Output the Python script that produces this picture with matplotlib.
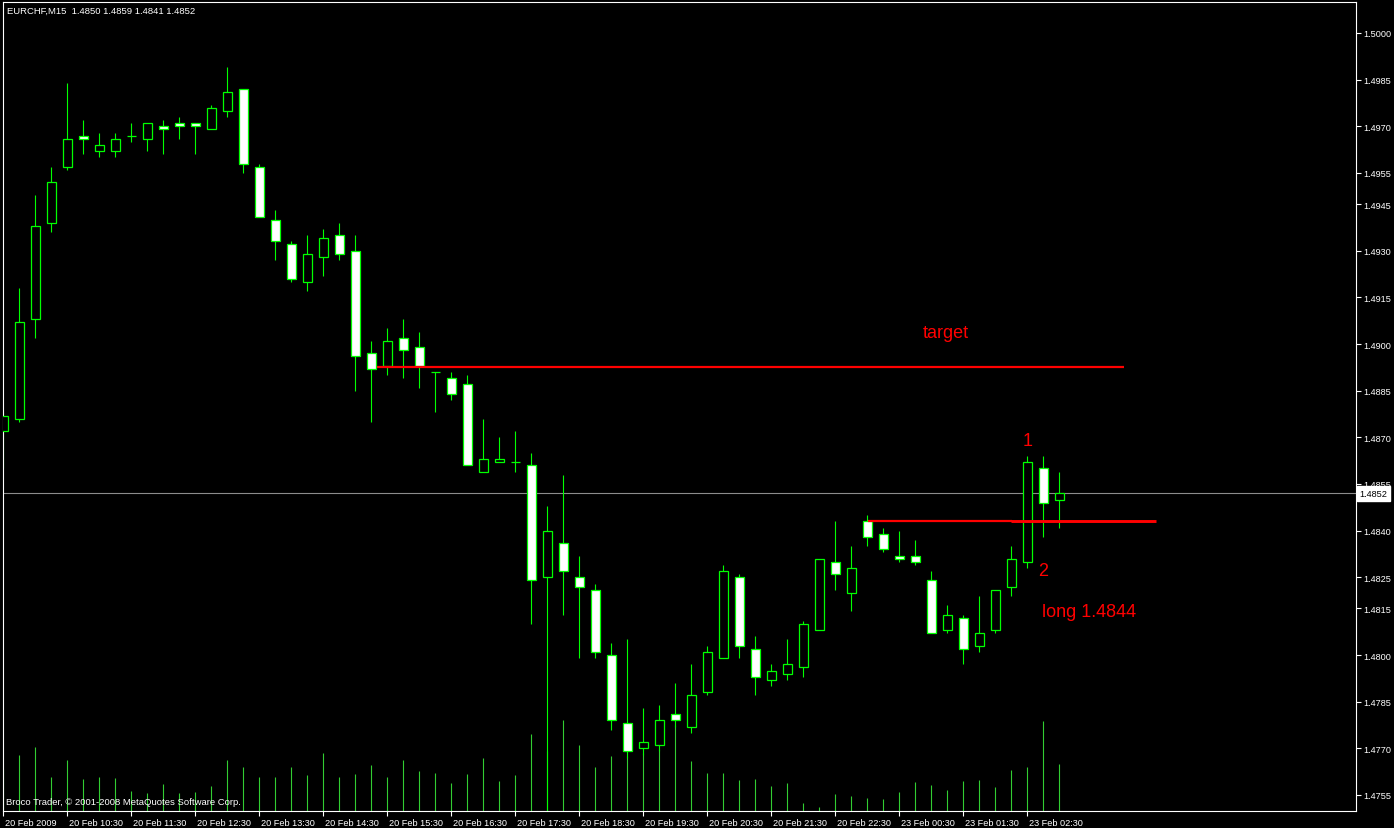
import matplotlib
matplotlib.use('Agg')
import matplotlib.pyplot as plt
import matplotlib.transforms as mtransforms
from matplotlib.patches import Rectangle

plt.rcParams['font.family'] = ['Liberation Sans', 'DejaVu Sans']

# ---------------- data ----------------
symbol = "EURCHF,M15"
opens = [1.4872, 1.4876, 1.4908, 1.4939, 1.4957, 1.4967, 1.4962, 1.4962, 1.4967, 1.4966,
         1.4970, 1.4971, 1.4971, 1.4969, 1.4975, 1.4982, 1.4957, 1.4940, 1.4932, 1.4920,
         1.4928, 1.4935, 1.4930, 1.4897, 1.4893, 1.4902, 1.4899, 1.4891, 1.4889, 1.4887,
         1.4859, 1.4862, 1.4862, 1.4861, 1.4825, 1.4836, 1.4825, 1.4821, 1.4800, 1.4778,
         1.4770, 1.4771, 1.4781, 1.4777, 1.4788, 1.4799, 1.4825, 1.4802, 1.4792, 1.4794,
         1.4796, 1.4808, 1.4830, 1.4820, 1.4843, 1.4839, 1.4832, 1.4832, 1.4824, 1.4808,
         1.4812, 1.4803, 1.4808, 1.4822, 1.4830, 1.4860, 1.4850]
highs = [1.4878, 1.4918, 1.4948, 1.4957, 1.4984, 1.4972, 1.4968, 1.4968, 1.4971, 1.4971,
         1.4972, 1.4973, 1.4971, 1.4977, 1.4989, 1.4982, 1.4958, 1.4943, 1.4933, 1.4935,
         1.4937, 1.4939, 1.4935, 1.4901, 1.4905, 1.4908, 1.4904, 1.4891, 1.4891, 1.4890,
         1.4876, 1.4870, 1.4872, 1.4865, 1.4848, 1.4858, 1.4832, 1.4823, 1.4804, 1.4805,
         1.4783, 1.4784, 1.4791, 1.4797, 1.4803, 1.4829, 1.4826, 1.4806, 1.4797, 1.4805,
         1.4811, 1.4831, 1.4843, 1.4835, 1.4845, 1.4841, 1.4840, 1.4837, 1.4827, 1.4816,
         1.4813, 1.4819, 1.4821, 1.4835, 1.4864, 1.4864, 1.4859]
lows = [1.4860, 1.4875, 1.4902, 1.4936, 1.4956, 1.4961, 1.4960, 1.4960, 1.4965, 1.4962,
        1.4961, 1.4966, 1.4961, 1.4969, 1.4973, 1.4955, 1.4941, 1.4927, 1.4920, 1.4917,
        1.4922, 1.4927, 1.4885, 1.4875, 1.4890, 1.4889, 1.4886, 1.4878, 1.4882, 1.4861,
        1.4859, 1.4862, 1.4859, 1.4810, 1.4750, 1.4813, 1.4799, 1.4799, 1.4776, 1.4767,
        1.4768, 1.4769, 1.4777, 1.4775, 1.4787, 1.4799, 1.4799, 1.4787, 1.4790, 1.4792,
        1.4793, 1.4808, 1.4821, 1.4814, 1.4835, 1.4833, 1.4830, 1.4829, 1.4807, 1.4807,
        1.4797, 1.4801, 1.4807, 1.4819, 1.4828, 1.4838, 1.4841]
closes = [1.4877, 1.4907, 1.4938, 1.4952, 1.4966, 1.4966, 1.4964, 1.4966, 1.4967, 1.4971,
          1.4969, 1.4970, 1.4970, 1.4976, 1.4981, 1.4958, 1.4941, 1.4933, 1.4921, 1.4929,
          1.4934, 1.4929, 1.4896, 1.4892, 1.4901, 1.4898, 1.4893, 1.4891, 1.4884, 1.4861,
          1.4863, 1.4863, 1.4862, 1.4824, 1.4840, 1.4827, 1.4822, 1.4801, 1.4779, 1.4769,
          1.4772, 1.4779, 1.4779, 1.4787, 1.4801, 1.4827, 1.4803, 1.4793, 1.4795, 1.4797,
          1.4810, 1.4831, 1.4826, 1.4828, 1.4838, 1.4834, 1.4831, 1.4830, 1.4807, 1.4813,
          1.4802, 1.4807, 1.4821, 1.4831, 1.4862, 1.4849, 1.4852]
volumes = [42, 56, 64, 34, 51, 32, 34, 33, 20, 18, 27, 18, 19, 25, 51, 44, 34, 34, 44, 36,
           58, 34, 37, 46, 34, 51, 40, 38, 28, 37, 53, 30, 36, 77, 60, 91, 66, 44, 55, 55,
           58, 62, 86, 50, 38, 38, 31, 32, 25, 28, 8, 4, 17, 15, 13, 12, 19, 29, 26, 21,
           30, 31, 24, 41, 44, 90, 47]

time_tick_bars = [0, 4, 8, 12, 16, 20, 24, 28, 32, 36, 40, 44, 48, 52, 56, 60, 64]
time_tick_labels = ["20 Feb 2009", "20 Feb 10:30", "20 Feb 11:30", "20 Feb 12:30",
                    "20 Feb 13:30", "20 Feb 14:30", "20 Feb 15:30", "20 Feb 16:30",
                    "20 Feb 17:30", "20 Feb 18:30", "20 Feb 19:30", "20 Feb 20:30",
                    "20 Feb 21:30", "20 Feb 22:30", "23 Feb 00:30", "23 Feb 01:30",
                    "23 Feb 02:30"]
price_ticks = [1.5000, 1.4985, 1.4970, 1.4955, 1.4945, 1.4930, 1.4915, 1.4900, 1.4885,
               1.4870, 1.4855, 1.4840, 1.4825, 1.4815, 1.4800, 1.4785, 1.4770, 1.4755]

target_price = 1.48925
entry_price = 1.4843
current_price = closes[-1]

# ---------------- figure ----------------
W, H = 1394, 829
fig = plt.figure(figsize=(W / 100, H / 100), dpi=100, facecolor='black')
left_px, right_px, top_px, bot_px = 2.5, 1356, 2.5, 812
rect = [left_px / W, 1 - bot_px / H, (right_px - left_px) / W, (bot_px - top_px) / H]

axv = fig.add_axes(rect, zorder=0)
axv.set_facecolor('black')
ax = fig.add_axes(rect, zorder=1, sharex=axv)
ax.patch.set_visible(False)

n = len(opens)
xs = list(range(n))

# volumes
axv.vlines(xs, 0, volumes, color='#32CD32', lw=0.8)
axv.set_ylim(0, bot_px - top_px)
axv.set_yticks([])
for s in axv.spines.values():
    s.set_visible(False)
axv.tick_params(axis='x', which='both', bottom=False, labelbottom=False)

GREEN = '#00FF00'
# wicks
ax.vlines(xs, lows, highs, color=GREEN, lw=0.8, zorder=2)
# bodies
bw = 0.6
for i in xs:
    o, c = opens[i], closes[i]
    face = 'white' if c < o else 'black'
    y0 = min(o, c)
    h = abs(c - o)
    ax.add_patch(Rectangle((i - bw / 2, y0), bw, h, facecolor=face,
                           edgecolor=GREEN, lw=0.9, zorder=3))

ax.set_xlim(-0.05, (right_px - 3.3) / 16)
ax.set_ylim(1.5 - (bot_px - 34) / 31102, 1.5 + (34 - top_px) / 31102)

# current price line
ax.axhline(current_price, color='#8c8c8c', lw=0.8, zorder=1)

# red drawn objects
RED = '#FF0000'
ax.hlines(target_price, 23.34, 70.06, color=RED, lw=1.6, zorder=4)
ax.hlines(entry_price, 54.06, 63.03, color=RED, lw=1.6, zorder=4)
ax.hlines(entry_price, 62.98, 72.04, color=RED, lw=2.1, zorder=4)
ax.text(57.45, 1.49023, "target", color=RED, fontsize=13, ha='left', va='baseline', zorder=5)
ax.text(63.7, 1.48675, "1", color=RED, fontsize=13, ha='left', va='baseline', zorder=5)
ax.text(64.65, 1.48257, "2", color=RED, fontsize=13, ha='left', va='baseline', zorder=5)
ax.text(64.95, 1.48126, "long 1.4844", color=RED, fontsize=13, ha='left', va='baseline', zorder=5)

# axes styling
for s in ax.spines.values():
    s.set_color('white')
    s.set_linewidth(0.8)
ax.yaxis.tick_right()
ax.set_yticks(price_ticks)
ax.set_yticklabels([f"{v:.4f}" for v in price_ticks])
ax.set_xticks(time_tick_bars)
ax.set_xticklabels(time_tick_labels)
ax.tick_params(axis='both', colors='white', labelcolor='white', labelsize=6.6,
               direction='out', length=3.5, width=0.8)
ax.tick_params(axis='y', pad=2)
ax.tick_params(axis='x', pad=1.5)
shift = mtransforms.ScaledTranslation(1.5 / 72, 0, fig.dpi_scale_trans)
for lab in ax.get_xticklabels():
    lab.set_horizontalalignment('left')
    lab.set_transform(lab.get_transform() + shift)

# current price tag
tag_tr = mtransforms.blended_transform_factory(ax.transAxes, ax.transData)
ax.text(1.0 + 3.5 / (right_px - left_px), current_price, f"{current_price:.4f}",
        transform=tag_tr, ha='left', va='center', fontsize=6.6, color='black',
        bbox=dict(boxstyle='square,pad=0.3', fc='white', ec='white'), zorder=6,
        clip_on=False)

# header and copyright
fig.text(7 / W, 1 - 11 / H, f"{symbol}  " + " ".join(f"{v:.4f}" for v in
         (opens[-1], highs[-1], lows[-1], closes[-1])),
         color='white', fontsize=6.8, ha='left', va='center')
fig.text(6 / W, 1 - 803 / H, "Broco Trader, © 2001-2008 MetaQuotes Software Corp.",
         color='white', fontsize=6.8, ha='left', va='center', zorder=10)

fig.savefig('out.png', dpi=100, facecolor='black')
